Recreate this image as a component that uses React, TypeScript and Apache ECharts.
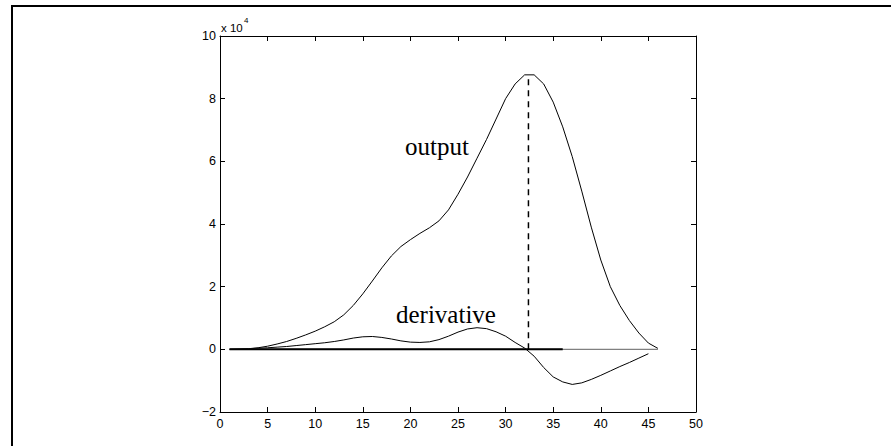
import React, { useEffect, useRef } from 'react';
import * as echarts from 'echarts';

// values in units of 10^4, sampled at x = 1, 2, 3, ...
const outputValues = [
  0, 0.005, 0.02, 0.05, 0.1, 0.17, 0.25, 0.35, 0.46, 0.58,
  0.72, 0.88, 1.1, 1.4, 1.77, 2.18, 2.6, 2.98, 3.28, 3.5,
  3.7, 3.88, 4.1, 4.45, 4.95, 5.5, 6.1, 6.7, 7.35, 8.0,
  8.47, 8.76, 8.76, 8.47, 7.89, 7.1, 6.15, 5.05, 3.9, 2.85,
  2.0, 1.4, 0.92, 0.52, 0.2, 0.03,
];
const derivativeValues = [
  0, 0.01, 0.02, 0.035, 0.05, 0.07, 0.09, 0.12, 0.15, 0.18,
  0.21, 0.25, 0.3, 0.36, 0.4, 0.41, 0.38, 0.33, 0.27, 0.23,
  0.22, 0.24, 0.31, 0.42, 0.55, 0.65, 0.69, 0.66, 0.56, 0.42,
  0.22, 0.04, -0.22, -0.58, -0.88, -1.04, -1.12, -1.07, -0.96, -0.83,
  -0.69, -0.55, -0.42, -0.28, -0.14,
];
const zeroBoldX = [1, 36];
const zeroThinX = [1, 46];
const peakLineX = 32.4;
const peakLineY = [0, 8.72];
const xRange = [0, 50];
const xStep = 5;
const yRange = [-2, 10];
const yStep = 2;
const exponentText = 'x 10';
const exponentSup = '4';
const outputLabel = 'output';
const derivativeLabel = 'derivative';

export default function App() {
  const ref = useRef<HTMLDivElement>(null);
  useEffect(() => {
    const chart = echarts.init(ref.current!, null, { renderer: 'svg' });
    const axisLine = { show: true, onZero: false, lineStyle: { color: '#000', width: 1 } };
    const axisTick = { show: true, inside: true, length: 5, lineStyle: { color: '#000', width: 1 } };
    const labelStyle = { color: '#000', fontFamily: '"Liberation Sans", Arial, sans-serif', fontSize: 12.5 };
    chart.setOption({
      animation: false,
      backgroundColor: '#fff',
      grid: { left: 220, right: 195, top: 36, bottom: 34, containLabel: false },
      xAxis: [
        {
          type: 'value', position: 'bottom', min: xRange[0], max: xRange[1], interval: xStep,
          axisLine, axisTick, splitLine: { show: false },
          axisLabel: { ...labelStyle, margin: 5 },
        },
        {
          type: 'value', position: 'top', min: xRange[0], max: xRange[1], interval: xStep,
          axisLine, axisTick, splitLine: { show: false }, axisLabel: { show: false },
        },
      ],
      yAxis: [
        {
          type: 'value', position: 'left', min: yRange[0], max: yRange[1], interval: yStep,
          axisLine, axisTick, splitLine: { show: false },
          axisLabel: {
            ...labelStyle, margin: 4,
            formatter: (v: number) => (v < 0 ? '\u2212' + Math.abs(v) : String(v)),
          },
        },
        {
          type: 'value', position: 'right', min: yRange[0], max: yRange[1], interval: yStep,
          axisLine, axisTick, splitLine: { show: false }, axisLabel: { show: false },
        },
      ],
      series: [
        {
          type: 'line', name: 'output', symbol: 'none', silent: true,
          data: outputValues.map((v, i) => [i + 1, v]),
          lineStyle: { color: '#000', width: 1 },
        },
        {
          type: 'line', name: 'derivative', symbol: 'none', silent: true,
          data: derivativeValues.map((v, i) => [i + 1, v]),
          lineStyle: { color: '#000', width: 1 },
        },
        {
          type: 'line', name: 'zeroThin', symbol: 'none', silent: true,
          data: zeroThinX.map((x) => [x, 0]),
          lineStyle: { color: '#808080', width: 1.3 },
        },
        {
          type: 'line', name: 'zeroBold', symbol: 'none', silent: true,
          data: zeroBoldX.map((x) => [x, 0]),
          lineStyle: { color: '#000', width: 2 },
        },
        {
          type: 'line', name: 'peak', symbol: 'none', silent: true,
          data: peakLineY.map((y) => [peakLineX, y]),
          lineStyle: { color: '#000', width: 1.5, type: [6, 5] },
        },
      ],
      graphic: [
        { type: 'rect', left: 11, top: 5, shape: { width: 880, height: 2 }, style: { fill: '#000' } },
        { type: 'rect', left: 11, top: 5, shape: { width: 2, height: 441 }, style: { fill: '#000' } },
        {
          type: 'text', x: 221, y: 28,
          style: { text: exponentText, font: '11.5px "Liberation Sans", Arial, sans-serif', fill: '#000', verticalAlign: 'middle' },
        },
        {
          type: 'text', x: 244, y: 20,
          style: { text: exponentSup, font: '8px "Liberation Sans", Arial, sans-serif', fill: '#000', verticalAlign: 'middle' },
        },
        {
          type: 'text', x: 405, y: 146,
          style: { text: outputLabel, font: '25px "Liberation Serif", "Times New Roman", serif', fill: '#000', verticalAlign: 'middle' },
        },
        {
          type: 'text', x: 396, y: 314,
          style: { text: derivativeLabel, font: '25px "Liberation Serif", "Times New Roman", serif', fill: '#000', verticalAlign: 'middle' },
        },
      ],
    });
    return () => chart.dispose();
  }, []);
  return (
    <div
      ref={ref}
      style={{ position: 'absolute', left: 0, top: 0, width: 891, height: 446, background: '#fff' }}
    />
  );
}
